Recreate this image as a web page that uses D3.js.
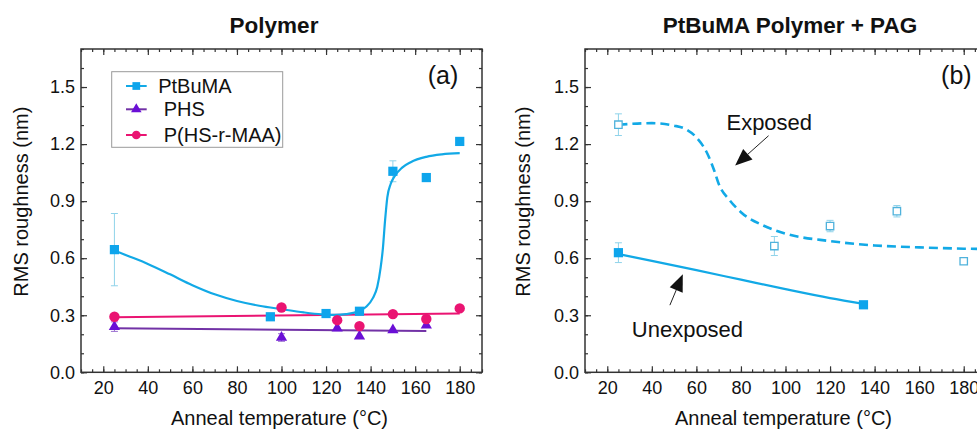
<!DOCTYPE html>
<html>
<head>
<meta charset="utf-8">
<script src="https://cdn.jsdelivr.net/npm/d3@7"></script>
<style>
    body { margin: 0; background: #fff; }
    text { font-family: "Liberation Sans", Arial, sans-serif; fill: #111; }
</style>
</head>
<body>
<div id="chart"></div>
<script>

// axis ticks
var xTicks = [20, 40, 60, 80, 100, 120, 140, 160, 180];
var yTicks = [0, 0.3, 0.6, 0.9, 1.2, 1.5];

// panel (a) measured points
var ptbumaTemp = [25, 95, 120, 135, 150, 165, 180];
var ptbumaRms = [0.645, 0.292, 0.309, 0.321, 1.057, 1.024, 1.214];
var ptbumaErr = [0.19, 0, 0, 0, 0.055, 0, 0];

var phsTemp = [25, 100, 125, 135, 150, 165];
var phsRms = [0.24, 0.183, 0.232, 0.19, 0.222, 0.248];
var phsErr = [0.025, 0.02, 0, 0, 0, 0];

var mixTemp = [25, 100, 125, 135, 150, 165, 180];
var mixRms = [0.292, 0.341, 0.274, 0.243, 0.306, 0.28, 0.336];

// panel (a) fit curves
var ptbumaFitT = [25, 32, 40, 50, 60, 70, 80, 90, 100, 110, 118, 124, 129, 134, 138, 141, 143, 144.5, 145.5, 146.5, 147.5, 149, 151, 154, 158, 165, 172, 180];
var ptbumaFitV = [0.64, 0.608, 0.57, 0.515, 0.458, 0.41, 0.375, 0.35, 0.332, 0.315, 0.305, 0.302, 0.306, 0.318, 0.345, 0.39, 0.45, 0.55, 0.65, 0.8, 0.92, 0.99, 1.035, 1.075, 1.105, 1.133, 1.146, 1.152];
var phsFitT = [25, 165];
var phsFitV = [0.231, 0.217];
var mixFitT = [25, 180];
var mixFitV = [0.29, 0.309];

// panel (b) measured points
var unexpTemp = [25, 135];
var unexpRms = [0.629, 0.355];
var unexpErr = [0.052, 0];

var expTemp = [25, 95, 120, 150, 180];
var expRms = [1.302, 0.664, 0.769, 0.847, 0.584];
var expErr = [0.057, 0.05, 0.03, 0.03, 0.012];

// panel (b) fit curves
var unexpFitT = [25, 40, 60, 80, 100, 120, 135];
var unexpFitV = [0.622, 0.586, 0.537, 0.487, 0.437, 0.39, 0.36];
var expFitT = [25, 40, 50, 55, 60, 65, 68, 70, 75, 80, 90, 100, 120, 140, 160, 180, 186];
var expFitV = [1.302, 1.31, 1.297, 1.28, 1.235, 1.148, 1.061, 0.991, 0.904, 0.842, 0.772, 0.729, 0.69, 0.667, 0.657, 0.65, 0.649];

var blue = "#0ea5ec",
    blueLine = "#12a9e6",
    blueErr = "#8fd3ea",
    openBlue = "#4fb2dc",
    purple = "#6a0fd6",
    purpleLine = "#7232a6",
    pink = "#ea1472";

var W = 977, H = 431;

var svg = d3.select("#chart").append("svg")
    .attr("width", W)
    .attr("height", H);

function zip(t, v, e) {
    return t.map(function (d, i) {
        return {x: d, y: v[i], e: e ? e[i] : 0};
    });
}

function makePanel(left, title, titleX, label) {
    var p = {};
    var width = 401, height = 323.3, top = 49;

    var x = p.x = d3.scaleLinear().domain([10, 190]).range([0, width]);
    var y = p.y = d3.scaleLinear().domain([0, 1.7]).range([height, 0]);

    var g = p.g = svg.append("g")
        .attr("transform", "translate(" + left + "," + top + ")");

    svg.append("text")
        .attr("x", titleX)
        .attr("y", 33)
        .style("font-size", "22.5px")
        .style("font-weight", "bold")
        .style("text-anchor", "middle")
        .text(title);

    var minorX = d3.range(10, 191, 5);
    var minorY = d3.range(0, 1.71, 0.1);

    function axisStyle(sel) {
        sel.select(".domain").remove();
        sel.selectAll("line").attr("stroke", "#333").attr("stroke-width", 1.2);
    }

    // bottom
    g.append("g").attr("transform", "translate(0," + height + ")")
        .call(d3.axisBottom(x).tickValues(minorX).tickSize(-3).tickFormat(""))
        .call(axisStyle);
    g.append("g").attr("transform", "translate(0," + height + ")")
        .call(d3.axisBottom(x).tickValues(xTicks).tickSize(-6).tickPadding(9).tickFormat(d3.format("d")))
        .call(axisStyle)
        .selectAll("text").style("font-size", "18px").attr("fill", "#111")
        .style("font-family", "Liberation Sans, Arial, sans-serif");
    // top
    g.append("g")
        .call(d3.axisTop(x).tickValues(minorX).tickSize(-3).tickFormat(""))
        .call(axisStyle);
    g.append("g")
        .call(d3.axisTop(x).tickValues(xTicks).tickSize(-6).tickFormat(""))
        .call(axisStyle);
    // left
    g.append("g")
        .call(d3.axisLeft(y).tickValues(minorY).tickSize(-3).tickFormat(""))
        .call(axisStyle);
    g.append("g")
        .call(d3.axisLeft(y).tickValues(yTicks).tickSize(-6).tickPadding(6).tickFormat(d3.format(".1f")))
        .call(axisStyle)
        .selectAll("text").style("font-size", "18px").attr("fill", "#111")
        .style("font-family", "Liberation Sans, Arial, sans-serif");
    // right
    g.append("g").attr("transform", "translate(" + width + ",0)")
        .call(d3.axisRight(y).tickValues(minorY).tickSize(-3).tickFormat(""))
        .call(axisStyle);
    g.append("g").attr("transform", "translate(" + width + ",0)")
        .call(d3.axisRight(y).tickValues(yTicks).tickSize(-6).tickFormat(""))
        .call(axisStyle);

    g.append("rect")
        .attr("width", width)
        .attr("height", height)
        .attr("fill", "none")
        .attr("stroke", "#333")
        .attr("stroke-width", 1.5);

    g.append("text")
        .attr("x", width / 2 - 2)
        .attr("y", 376)
        .style("font-size", "20px")
        .style("text-anchor", "middle")
        .text("Anneal temperature (\u00B0C)");

    g.append("text")
        .attr("transform", "translate(" + (-left + label) + "," + (height / 2 - 9) + ") rotate(-90)")
        .style("font-size", "20px")
        .style("text-anchor", "middle")
        .text("RMS roughness (nm)");

    return p;
}

function drawLine(p, t, v, color, w, dash) {
    var line = d3.line()
        .x(function (d) { return p.x(d.x); })
        .y(function (d) { return p.y(d.y); })
        .curve(d3.curveMonotoneX);
    p.g.append("path")
        .datum(zip(t, v))
        .attr("d", line)
        .attr("fill", "none")
        .attr("stroke", color)
        .attr("stroke-width", w)
        .attr("stroke-dasharray", dash || null);
}

function drawErr(p, data, color) {
    var eb = p.g.append("g").attr("stroke", color).attr("stroke-width", 1);
    data.filter(function (d) { return d.e > 0; }).forEach(function (d) {
        var cx = p.x(d.x);
        eb.append("line").attr("x1", cx).attr("x2", cx)
            .attr("y1", p.y(d.y - d.e)).attr("y2", p.y(d.y + d.e));
        [d.y - d.e, d.y + d.e].forEach(function (v) {
            eb.append("line").attr("x1", cx - 3.5).attr("x2", cx + 3.5)
                .attr("y1", p.y(v)).attr("y2", p.y(v));
        });
    });
}

function drawPoints(p, data, symbol, size, fill, stroke, sw) {
    p.g.selectAll(null)
        .data(data)
        .enter()
        .append("path")
        .attr("d", d3.symbol().type(symbol).size(size))
        .attr("transform", function (d) {
            return "translate(" + p.x(d.x) + "," + p.y(d.y) + ")";
        })
        .attr("fill", fill)
        .attr("stroke", stroke || "none")
        .attr("stroke-width", sw || 0);
}

// ---------- panel (a)
var pa = makePanel(81, "Polymer", 274, 28);

var ptbuma = zip(ptbumaTemp, ptbumaRms, ptbumaErr);
var phs = zip(phsTemp, phsRms, phsErr);
var mix = zip(mixTemp, mixRms);

drawErr(pa, ptbuma, blueErr);
drawErr(pa, phs, "#9a6fd0");
drawLine(pa, phsFitT, phsFitV, purpleLine, 2);
drawLine(pa, mixFitT, mixFitV, pink, 2);
drawLine(pa, ptbumaFitT, ptbumaFitV, blueLine, 2.2);
drawPoints(pa, phs, d3.symbolTriangle, 55, purple);
drawPoints(pa, mix, d3.symbolCircle, 85, pink);
drawPoints(pa, ptbuma, d3.symbolSquare, 85, blue);

pa.g.append("text")
    .attr("x", pa.x(172.5))
    .attr("y", pa.y(1.515))
    .style("font-size", "25px")
    .style("text-anchor", "middle")
    .text("(a)");

// legend
var legendItems = [
    {name: "PtBuMA", symbol: d3.symbolSquare, size: 60, fill: blue, line: blueLine},
    {name: " PHS", symbol: d3.symbolTriangle, size: 48, fill: purple, line: purpleLine},
    {name: " P(HS-r-MAA)", symbol: d3.symbolCircle, size: 60, fill: pink, line: pink}
];

var legend = pa.g.append("g").attr("transform", "translate(30.7,22.7)");
legend.append("rect")
    .attr("width", 171)
    .attr("height", 75.6)
    .attr("fill", "#fff")
    .attr("stroke", "#9a9a9a")
    .attr("stroke-width", 1);

var rows = legend.selectAll(".row")
    .data(legendItems)
    .enter()
    .append("g")
    .attr("class", "row")
    .attr("transform", function (d, i) {
        return "translate(0," + [14.3, 37.6, 63.3][i] + ")";
    });
rows.append("line")
    .attr("x1", 14.3).attr("x2", 35)
    .attr("stroke", function (d) { return d.line; })
    .attr("stroke-width", 2);
rows.append("path")
    .attr("d", function (d) { return d3.symbol().type(d.symbol).size(d.size)(); })
    .attr("transform", "translate(24.6,0)")
    .attr("fill", function (d) { return d.fill; });
rows.append("text")
    .attr("x", 46.5)
    .attr("y", 7)
    .style("font-size", "20px")
    .style("white-space", "pre")
    .attr("xml:space", "preserve")
    .text(function (d) { return d.name; });

// ---------- panel (b)
var pb = makePanel(585, "PtBuMA Polymer + PAG", 790, 530);

var unexp = zip(unexpTemp, unexpRms, unexpErr);
var expo = zip(expTemp, expRms, expErr);

drawErr(pb, unexp, blueErr);
drawErr(pb, expo, blueErr);
drawLine(pb, expFitT, expFitV, blueLine, 2.6, "9,5");
drawLine(pb, unexpFitT, unexpFitV, blueLine, 2.2);
drawPoints(pb, unexp, d3.symbolSquare, 85, blue);
drawPoints(pb, expo, d3.symbolSquare, 55, "#fff", openBlue, 1.3);

pb.g.append("text")
    .attr("x", pb.x(176.7))
    .attr("y", pb.y(1.515))
    .style("font-size", "25px")
    .style("text-anchor", "middle")
    .text("(b)");

pb.g.append("text")
    .attr("x", pb.x(73.5))
    .attr("y", pb.y(1.274))
    .style("font-size", "22px")
    .text("Exposed");

pb.g.append("text")
    .attr("x", pb.x(31))
    .attr("y", pb.y(0.187))
    .style("font-size", "22px")
    .text("Unexposed");

function arrow(p, x0, y0, x1, y1) {
    var ax = p.x(x0), ay = p.y(y0), bx = p.x(x1), by = p.y(y1);
    var ang = Math.atan2(by - ay, bx - ax);
    var len = 17, half = 7;
    var baseX = bx - len * Math.cos(ang), baseY = by - len * Math.sin(ang);
    p.g.append("line")
        .attr("x1", ax).attr("y1", ay)
        .attr("x2", baseX).attr("y2", baseY)
        .attr("stroke", "#222")
        .attr("stroke-width", 1);
    p.g.append("path")
        .attr("d", "M" + bx + "," + by +
            "L" + (baseX + half * Math.sin(ang)) + "," + (baseY - half * Math.cos(ang)) +
            "L" + (baseX - half * Math.sin(ang)) + "," + (baseY + half * Math.cos(ang)) + "Z")
        .attr("fill", "#111");
}

arrow(pb, 92.4, 1.244, 77.4, 1.087);
arrow(pb, 48.1, 0.353, 53.9, 0.515);

</script>
</body>
</html>
